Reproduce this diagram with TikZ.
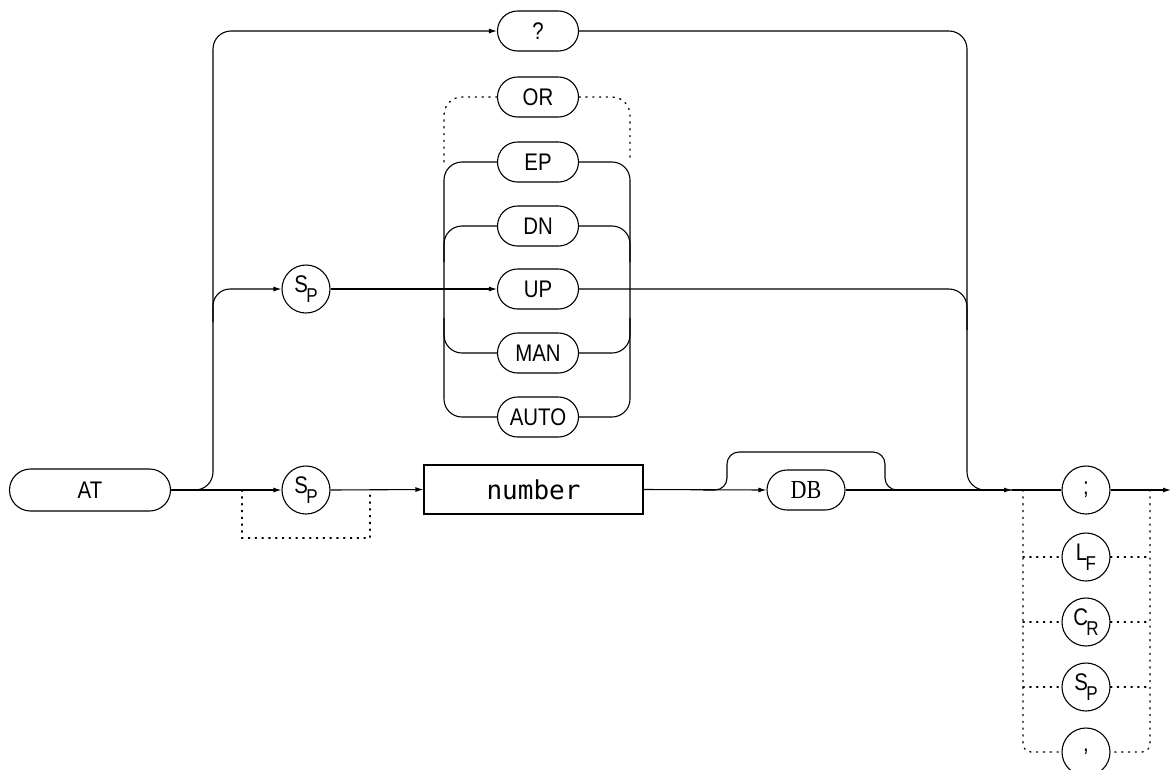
\documentclass[tikz,border=0pt]{standalone}
\usepackage{fontspec}
\setmainfont{Liberation Sans}[FakeStretch=0.85]
\newfontfamily\numfont{DejaVu Sans Mono}
\newfontfamily\dbfont{Liberation Serif}[FakeStretch=0.85]
\usetikzlibrary{arrows.meta}
\newcommand\glyphpair[2]{\fontsize{24}{24}\selectfont\raisebox{4pt}{#1}\kern-1.5pt\raisebox{-6pt}{\fontsize{20}{20}\selectfont #2}}
\begin{document}
\begin{tikzpicture}[x=1pt,y=-1pt,
  ln/.style={line width=1.1pt},
  dots/.style={line width=1.3pt, dash pattern=on 1.3pt off 5.5pt, line cap=round},
  arr/.style={-{Latex[length=8pt,width=5pt]}},
  pill/.style={draw, line width=1.1pt, rounded corners=20pt, minimum width=81pt, minimum height=40pt, inner sep=0pt, font=\fontsize{24}{24}\selectfont},
  circ/.style={draw, circle, minimum size=48pt, inner sep=0pt, line width=1.1pt, font=\fontsize{24}{24}\selectfont},
  boxnode/.style={draw, line width=1.1pt, minimum width=219pt, minimum height=49pt, inner sep=0pt}
]
\fill[white] (0,0) rectangle (1172,769);
\useasboundingbox (0,0) rectangle (1172,769);

% nodes
\node[pill] (q) at (538,31) {?};
\node[pill] (OR) at (538,97) {OR};
\node[pill] (EP) at (538,162) {EP};
\node[pill] (DN) at (538,226) {DN};
\node[pill] (UP) at (538,289) {UP};
\node[pill] (MAN) at (538,353) {MAN};
\node[pill] (AUTO) at (538,417) {AUTO};
\node[pill, minimum width=161pt, minimum height=42pt, rounded corners=21pt] (AT) at (90,490) {AT};
\node[circ] (spU) at (306,289) {\glyphpair{S}{P}};
\node[circ] (spL) at (306,490) {\glyphpair{S}{P}};
\node[boxnode, font=\numfont\fontsize{26}{26}\selectfont] (num) at (533.5,489.5) {number};
\node[pill, minimum width=78pt, font=\dbfont\fontsize{26}{26}\selectfont] (DB) at (806,490) {DB};
\node[circ] (semi) at (1086,490) {;};
\node[circ] (LF) at (1086,557) {\glyphpair{L}{F}};
\node[circ] (CR) at (1086,622) {\glyphpair{C}{R}};
\node[circ] (SPc) at (1086,687) {\glyphpair{S}{P}};
\node[circ] (comma) at (1086,752) {,};

% junction coordinates
\coordinate (jL) at (213,490);
\coordinate (jLt) at (213,31);
\coordinate (jLs) at (213,322);
\coordinate (bL1) at (444,162);
\coordinate (bL2) at (444,417);
\coordinate (bLd) at (444,262);
\coordinate (bLm) at (444,318);
\coordinate (bR2) at (630,417);
\coordinate (bR1) at (630,162);
\coordinate (bRd) at (630,262);
\coordinate (bRm) at (630,318);
\coordinate (jRt) at (967,31);
\coordinate (jR) at (967,490);
\coordinate (jRu) at (967,330);
\coordinate (aj) at (1012,490);
\coordinate (endp) at (1171,490);
\coordinate (sd1) at (242,490);
\coordinate (sd2) at (242,538);
\coordinate (sd3) at (370,538);
\coordinate (sd4) at (370,490);
\coordinate (db1) at (703,490);
\coordinate (db2) at (727,490);
\coordinate (db3) at (727,452);
\coordinate (db4) at (885,452);
\coordinate (db5) at (885,490);
\coordinate (db6) at (909,490);
\coordinate (cL) at (1023,490);
\coordinate (cR) at (1150,490);

% left part
\draw[ln, arr, rounded corners=18pt] (AT.east) -- (jL) -- (jLt) -- (q.west);
\draw[ln, arr] (AT.east) -- (spL.west);
\draw[ln, arr, rounded corners=17pt] (jLs) |- (spU.west);
\draw[ln, arr] (spU.east) -- (UP.west);

% buses
\draw[ln, rounded corners=18pt] (EP.west) -| (bL2) -- (AUTO.west);
\draw[ln, rounded corners=18pt] (DN.west) -| (bLd);
\draw[ln, rounded corners=18pt] (MAN.west) -| (bLm);
\draw[ln, rounded corners=18pt] (EP.east) -| (bR2) -- (AUTO.east);
\draw[ln, rounded corners=18pt] (DN.east) -| (bRd);
\draw[ln, rounded corners=18pt] (MAN.east) -| (bRm);
\draw[dots, rounded corners=18pt] (OR.west) -| (bL1);
\draw[dots, rounded corners=18pt] (OR.east) -| (bR1);

% right part
\draw[ln, rounded corners=18pt] (q.east) -- (jRt) -- (jR) -- (aj);
\draw[ln, rounded corners=18pt] (UP.east) -| (jRu);

% lower line
\draw[ln, arr] (spL.east) -- (num.west);
\draw[dots] (sd1) -- (sd2) -- (sd3) -- (sd4);
\draw[ln, arr] (num.east) -- (DB.west);
\draw[ln, rounded corners=12pt] (db1) -- (db2) -- (db3) -- (db4) -- (db5) -- (db6);
\draw[ln, arr] (DB.east) -- (aj);
\draw[ln] (aj) -- (semi.west);
\draw[ln, arr] (semi.east) -- (endp);

% terminator alternatives
\draw[dots, rounded corners=8pt] (cL) |- (comma.west);
\draw[dots, rounded corners=8pt] (cR) |- (comma.east);
\foreach \n in {LF,CR,SPc}{
  \draw[dots] (\n.west -| cL) -- (\n.west);
  \draw[dots] (\n.east) -- (\n.east -| cR);
}
\end{tikzpicture}
\end{document}
